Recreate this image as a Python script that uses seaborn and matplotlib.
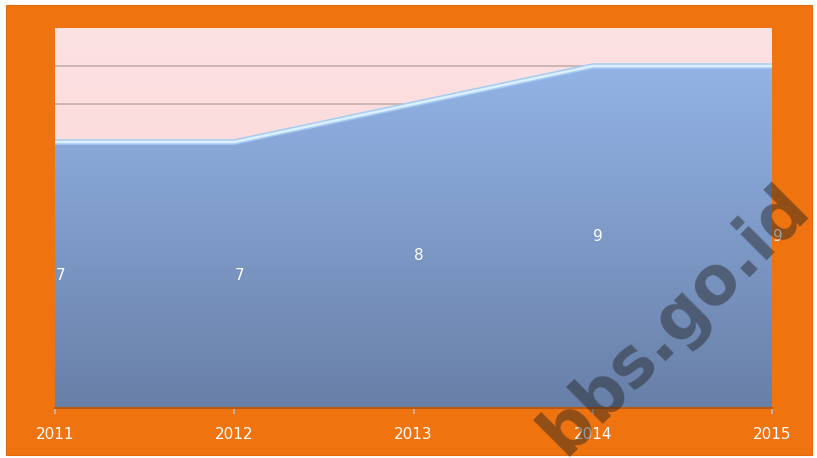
import matplotlib
matplotlib.use("Agg")
import matplotlib.pyplot as plt
import numpy as np
import pandas as pd
import seaborn as sns

years = [2011, 2012, 2013, 2014, 2015]
values = [7, 7, 8, 9, 9]
year_labels = ["2011", "2012", "2013", "2014", "2015"]

df = pd.DataFrame({"year": years, "value": values})

sns.set_theme(style="white")
plt.rcParams['font.family'] = ['DejaVu Sans']

fig = plt.figure(figsize=(8.17, 4.58), dpi=100)
fig.patch.set_facecolor("white")

# orange chart box
box = plt.Rectangle((6 / 817, 3 / 458), 806 / 817, 450 / 458, transform=fig.transFigure,
                    facecolor="#EF7410", edgecolor="#E06A0C", lw=0.8, zorder=-5)
fig.patches.append(box)

ax = fig.add_axes([55 / 817, 50 / 458, 717 / 817, 380 / 458])
ax.set_xlim(2011, 2015)
ax.set_ylim(0, 10)

# pink background gradient
bg = np.linspace(0, 1, 100).reshape(-1, 1)
ax.imshow(bg, extent=[2011, 2015, 0, 10], aspect="auto", origin="upper",
          cmap=matplotlib.colors.LinearSegmentedColormap.from_list("pk", ["#FDE2E3", "#FBCFCF"]),
          zorder=0)

for g in [8, 9]:
    ax.axhline(g, color="#C4AEAE", lw=1.2, zorder=1)

# blue area with gradient
poly = ax.fill_between(df["year"], df["value"], 0, color="none", zorder=2)
grad = np.linspace(0, 1, 100).reshape(-1, 1)
im = ax.imshow(grad, extent=[2011, 2015, 0, 9], aspect="auto", origin="upper",
               cmap=matplotlib.colors.LinearSegmentedColormap.from_list("bl", ["#93B3E6", "#6880A8"]),
               zorder=2)
path = poly.get_paths()[0]
im.set_clip_path(path, transform=ax.transData)

sns.lineplot(data=df, x="year", y="value", ax=ax, color="#A6CCF2", lw=4, zorder=3)
sns.lineplot(data=df, x="year", y="value", ax=ax, color="#DDF0FF", lw=1.8, zorder=4)

for x, v in zip(years, values):
    ax.text(x + 0.03, v / 2, str(v), color="white", fontsize=11, ha="center", va="center", zorder=5)

ax.set_xticks(years)
ax.set_xticklabels(year_labels, color="white", fontsize=11)
ax.tick_params(axis="x", length=4, color="#C8B8B0", pad=10, bottom=True)
ax.set_yticks([])
ax.set_xlabel("")
ax.set_ylabel("")
for s in ["top", "right", "left"]:
    ax.spines[s].set_visible(False)
ax.spines["bottom"].set_color("#B95A10")
ax.spines["bottom"].set_linewidth(1.5)

# watermark
fig.text(675 / 817, 1 - 320 / 458, "bbs.go.id", fontsize=48, fontweight="bold", color="#202020",
         alpha=0.45, rotation=45, ha="center", va="center", zorder=10)

fig.savefig("out.png", dpi=100)
